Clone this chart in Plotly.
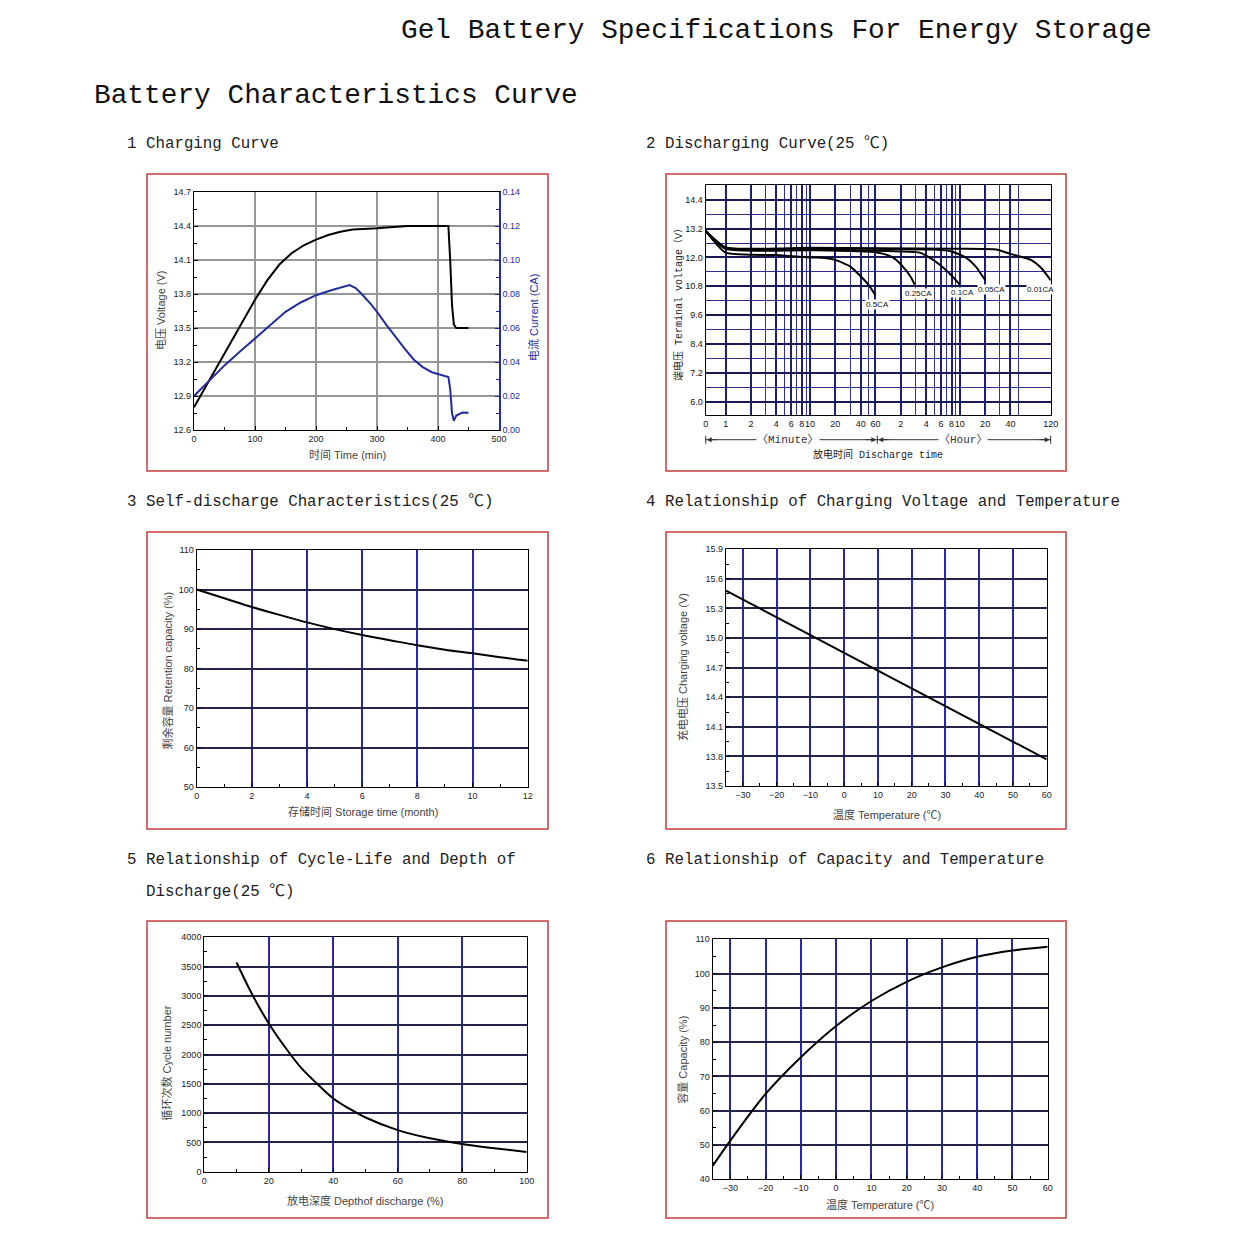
import math
import plotly.graph_objects as go

W, H = 1239, 1236

# ---------------- DATA ----------------
# 1 Charging curve
chg_time_v = [0, 20, 40, 60, 80, 100, 120, 140, 160, 180, 200, 220, 240, 260, 300, 350, 400, 417, 420, 423, 426, 430, 450]
chg_voltage = [12.80, 12.99, 13.18, 13.37, 13.56, 13.75, 13.92, 14.06, 14.16, 14.23, 14.28, 14.32, 14.35, 14.37, 14.38, 14.40, 14.40, 14.40, 14.10, 13.70, 13.53, 13.50, 13.50]
chg_time_i = [0, 25, 50, 75, 100, 125, 150, 175, 200, 225, 245, 255, 265, 275, 290, 300, 315, 330, 345, 360, 375, 390, 405, 417, 420, 423, 426, 430, 440, 450]
chg_current = [0.020, 0.029, 0.038, 0.046, 0.054, 0.062, 0.0695, 0.075, 0.0793, 0.0822, 0.0843, 0.0852, 0.0835, 0.0800, 0.0740, 0.0695, 0.0620, 0.0548, 0.0480, 0.0415, 0.0370, 0.0340, 0.0323, 0.0312, 0.0240, 0.0100, 0.0055, 0.0085, 0.0103, 0.0102]

# 2 Discharging curve (time in minutes; "0" is shown at the log-axis origin T0)
T0 = 0.58
dis_rates = ["0.5CA", "0.25CA", "0.1CA", "0.05CA", "0.01CA"]
dis_time = {
    "0.5CA": [T0, 1, 4, 10, 15, 20, 30, 40, 50, 60],
    "0.25CA": [T0, 1, 10, 60, 75, 96, 126, 158, 175],
    "0.1CA": [T0, 1, 10, 60, 120, 200, 240, 348, 480, 600],
    "0.05CA": [T0, 1, 10, 60, 300, 480, 704, 925, 1200],
    "0.01CA": [T0, 1, 10, 60, 600, 1630, 2400, 4200, 5600, 7200],
}
dis_volt = {
    "0.5CA": [13.1, 12.2, 12.1, 12.0, 11.98, 11.9, 11.63, 11.22, 10.85, 10.42],
    "0.25CA": [13.1, 12.36, 12.3, 12.22, 12.15, 12.0, 11.63, 11.18, 10.87],
    "0.1CA": [13.1, 12.38, 12.33, 12.28, 12.25, 12.2, 12.08, 11.7, 11.25, 10.87],
    "0.05CA": [13.1, 12.4, 12.38, 12.36, 12.33, 12.25, 12.0, 11.63, 11.06],
    "0.01CA": [13.1, 12.42, 12.4, 12.38, 12.36, 12.33, 12.15, 11.9, 11.55, 11.05],
}
dis_tickvals = [T0, 1, 2, 4, 6, 8, 10, 20, 40, 60, 120, 240, 360, 480, 600, 1200, 2400, 7200]
dis_ticktext = ["0", "1", "2", "4", "6", "8", "10", "20", "40", "60", "2", "4", "6", "8", "10", "20", "40", "120"]
dis_minor = [3, 5, 7, 9, 30, 50, 180, 300, 420, 540, 1800, 3000]

# 3 Self-discharge
sd_month = [0, 1, 2, 3, 4, 5, 6, 7, 8, 9, 10, 11, 12]
sd_capacity = [100, 97.8, 95.6, 93.6, 91.7, 90.0, 88.5, 87.2, 85.9, 84.8, 83.9, 82.9, 82.0]

# 4 Charging voltage vs temperature
cv_temp = [-35, -30, -20, -10, 0, 10, 20, 30, 40, 50, 60]
cv_volt = [15.48, 15.39, 15.21, 15.03, 14.85, 14.67, 14.49, 14.31, 14.13, 13.95, 13.77]

# 5 Cycle life vs depth of discharge
dod = [10, 15, 20, 25, 30, 35, 40, 45, 50, 60, 70, 80, 90, 100]
cycles = [3570, 3010, 2530, 2130, 1775, 1500, 1250, 1075, 925, 710, 570, 472, 400, 335]

# 6 Capacity vs temperature
ct_temp = [-35, -30, -20, -10, 0, 10, 20, 30, 40, 50, 60]
ct_cap = [43.9, 51.3, 64.9, 75.6, 84.7, 92.0, 97.6, 101.8, 104.9, 106.7, 107.8]

# ---------------- LAYOUT HELPERS ----------------
def fx(x):
    return x / W

def fy(y):
    return 1 - y / H

PANELS = {
    1: (194, 192, 499, 430),
    2: (705.7, 185.3, 1050.7, 415),
    3: (196.7, 550, 527.7, 787.3),
    4: (726, 549.3, 1046.7, 786),
    5: (204.3, 937.3, 526.7, 1171.7),
    6: (712.7, 939.3, 1047.7, 1179.3),
}
FRAMES = [(147, 174, 548, 471), (666, 174, 1066, 471), (147, 532, 548, 829),
          (666, 532, 1066, 829), (147, 921, 548, 1218), (666, 921, 1066, 1218)]

SANS = "Liberation Sans, Arial, Noto Sans CJK SC"
MONO = "Liberation Mono, Courier New, Noto Sans CJK SC"
BLUE_GRID = "rgb(40,40,165)"
NAVY_GRID = "rgb(35,35,75)"
GRAY_GRID = "rgb(150,150,150)"
CURRENT_BLUE = "rgb(35,45,155)"
TICKFONT = dict(family=SANS, size=9, color="#222")


def base_axis(**kw):
    d = dict(showline=True, linecolor="black", linewidth=1.2, mirror=True,
             ticks="inside", ticklen=4, tickcolor="black", tickwidth=1, tickangle=0,
             tickfont=TICKFONT, zeroline=False, showgrid=True, gridwidth=1.5,
             fixedrange=True, automargin=False)
    d.update(kw)
    return d


def dom(i):
    x0, y0, x1, y1 = PANELS[i]
    return [fx(x0), fx(x1)], [fy(y1), fy(y0)]


fig = go.Figure()

# Panel 1 traces
fig.add_trace(go.Scatter(x=chg_time_v, y=chg_voltage, mode="lines",
                         line=dict(color="black", width=2), xaxis="x", yaxis="y", showlegend=False))
fig.add_trace(go.Scatter(x=chg_time_i, y=chg_current, mode="lines",
                         line=dict(color=CURRENT_BLUE, width=2), xaxis="x", yaxis="y7", showlegend=False))

# Panel 2 traces
for r in dis_rates:
    fig.add_trace(go.Scatter(x=dis_time[r], y=dis_volt[r], mode="lines",
                             line=dict(color="black", width=2, shape="spline", smoothing=0.5),
                             xaxis="x2", yaxis="y2", showlegend=False))

# Panels 3-6
fig.add_trace(go.Scatter(x=sd_month, y=sd_capacity, mode="lines",
                         line=dict(color="black", width=2, shape="spline"), xaxis="x3", yaxis="y3", showlegend=False))
fig.add_trace(go.Scatter(x=cv_temp, y=cv_volt, mode="lines",
                         line=dict(color="black", width=2), xaxis="x4", yaxis="y4", showlegend=False))
fig.add_trace(go.Scatter(x=dod, y=cycles, mode="lines",
                         line=dict(color="black", width=2, shape="spline"), xaxis="x5", yaxis="y5", showlegend=False))
fig.add_trace(go.Scatter(x=ct_temp, y=ct_cap, mode="lines",
                         line=dict(color="black", width=2, shape="spline"), xaxis="x6", yaxis="y6", showlegend=False))

layout = dict(width=W, height=H, margin=dict(l=0, r=0, t=0, b=0, pad=0, autoexpand=False),
              paper_bgcolor="white", plot_bgcolor="white", showlegend=False)

# Panel 1 axes
xd, yd = dom(1)
layout["xaxis"] = base_axis(domain=xd, anchor="y", range=[0, 500], dtick=100, tick0=0,
                            gridcolor=GRAY_GRID,
                            minor=dict(dtick=50, ticks="inside", ticklen=3, showgrid=False))
layout["yaxis"] = base_axis(domain=yd, anchor="x", range=[12.6, 14.7], dtick=0.3, tick0=12.6,
                            tickformat=".1f", gridcolor=GRAY_GRID, mirror=False,
                            minor=dict(dtick=0.15, ticks="inside", ticklen=3, showgrid=False))
layout["yaxis7"] = dict(overlaying="y", side="right", anchor="x", range=[0, 0.14], dtick=0.02, tick0=0,
                        tickformat=".2f", showgrid=False, showline=True, linecolor=CURRENT_BLUE, linewidth=1.5,
                        ticks="inside", ticklen=4, tickcolor=CURRENT_BLUE, zeroline=False, fixedrange=True,
                        automargin=False, tickangle=0,
                        tickfont=dict(family=SANS, size=9, color=CURRENT_BLUE),
                        minor=dict(dtick=0.01, ticks="inside", ticklen=3, tickcolor=CURRENT_BLUE))

# Panel 2 axes
xd, yd = dom(2)
layout["xaxis2"] = base_axis(domain=xd, anchor="y2", type="log",
                             range=[math.log10(T0), math.log10(7200)],
                             tickmode="array", tickvals=dis_tickvals, ticktext=dis_ticktext,
                             ticks="", gridcolor="rgb(30,30,120)", gridwidth=1.5,
                             tickfont=dict(family=SANS, size=9, color="#111"),
                             minor=dict(tickmode="array", tickvals=dis_minor, showgrid=True,
                                        gridcolor="rgb(50,50,150)", gridwidth=1, ticks=""))
layout["yaxis2"] = base_axis(domain=yd, anchor="x2", range=[5.45, 15.0], tick0=6.0, dtick=1.2,
                             tickformat=".1f", ticks="", gridcolor="rgb(25,25,90)", gridwidth=1.5,
                             tickfont=dict(family=SANS, size=9, color="#111"),
                             minor=dict(tick0=6.0, dtick=0.6, showgrid=True, gridcolor="rgb(45,45,150)",
                                        gridwidth=1.3, ticks=""))

# Panel 3 axes
xd, yd = dom(3)
layout["xaxis3"] = base_axis(domain=xd, anchor="y3", range=[0, 12], dtick=2, tick0=0, gridcolor=BLUE_GRID,
                             minor=dict(dtick=1, ticks="inside", ticklen=3, showgrid=False))
layout["yaxis3"] = base_axis(domain=yd, anchor="x3", range=[50, 110], dtick=10, tick0=50, gridcolor=NAVY_GRID,
                             minor=dict(dtick=5, ticks="inside", ticklen=3, showgrid=False))

# Panel 4 axes
xd, yd = dom(4)
layout["xaxis4"] = base_axis(domain=xd, anchor="y4", range=[-35, 60], dtick=10, tick0=-30, gridcolor=BLUE_GRID,
                             minor=dict(dtick=5, tick0=-35, ticks="inside", ticklen=3, showgrid=False))
layout["yaxis4"] = base_axis(domain=yd, anchor="x4", range=[13.5, 15.9], dtick=0.3, tick0=13.5,
                             tickformat=".1f", gridcolor=NAVY_GRID,
                             minor=dict(dtick=0.15, ticks="inside", ticklen=3, showgrid=False))

# Panel 5 axes
xd, yd = dom(5)
layout["xaxis5"] = base_axis(domain=xd, anchor="y5", range=[0, 100], dtick=20, tick0=0, gridcolor=BLUE_GRID,
                             minor=dict(dtick=10, ticks="inside", ticklen=3, showgrid=False))
layout["yaxis5"] = base_axis(domain=yd, anchor="x5", range=[0, 4000], dtick=500, tick0=0, gridcolor=NAVY_GRID,
                             minor=dict(dtick=250, ticks="inside", ticklen=3, showgrid=False))

# Panel 6 axes
xd, yd = dom(6)
layout["xaxis6"] = base_axis(domain=xd, anchor="y6", range=[-35, 60], dtick=10, tick0=-30, gridcolor=BLUE_GRID,
                             minor=dict(dtick=5, tick0=-35, ticks="inside", ticklen=3, showgrid=False))
layout["yaxis6"] = base_axis(domain=yd, anchor="x6", range=[40, 110], dtick=10, tick0=40, gridcolor=NAVY_GRID,
                             minor=dict(dtick=5, ticks="inside", ticklen=3, showgrid=False))

fig.update_layout(**layout)

# Red frames
shapes = []
for (x0, y0, x1, y1) in FRAMES:
    shapes.append(dict(type="rect", xref="paper", yref="paper", x0=fx(x0), x1=fx(x1), y0=fy(y1), y1=fy(y0),
                       line=dict(color="rgb(200,60,60)", width=1.5), layer="below"))

# Panel 2 time-unit bracket row
ry = 439.7
xl, xm, xr = 705.7, 877.3, 1050.7
for a, b in [(xl, xm), (xm, xr)]:
    shapes.append(dict(type="line", xref="paper", yref="paper", x0=fx(a), x1=fx(b), y0=fy(ry), y1=fy(ry),
                       line=dict(color="#333", width=1)))
for xv in (xl, xm, xr):
    shapes.append(dict(type="line", xref="paper", yref="paper", x0=fx(xv), x1=fx(xv), y0=fy(ry - 4), y1=fy(ry + 4),
                       line=dict(color="#333", width=1)))
fig.update_layout(shapes=shapes)

ann = []


def text(x, y, s, size, family=MONO, color="#222", xanchor="left", angle=0, bg=None, yanchor="middle"):
    d = dict(x=fx(x), y=fy(y), xref="paper", yref="paper", text=s, showarrow=False,
             font=dict(family=family, size=size, color=color), xanchor=xanchor, yanchor=yanchor,
             textangle=angle)
    if bg:
        d["bgcolor"] = bg
        d["borderpad"] = 0
    ann.append(d)


# Titles
text(399, 31, "Gel Battery Specifications For Energy Storage", 27.8, color="#111")
text(92, 96, "Battery Characteristics Curve", 27.8, color="#111")
SUB = 15.8
text(125, 144, "1 Charging Curve", SUB)
text(644, 144, "2 Discharging Curve(25 ℃)", SUB)
text(125, 502, "3 Self-discharge Characteristics(25 ℃)", SUB)
text(644, 502, "4 Relationship of Charging Voltage and Temperature", SUB)
text(125, 860, "5 Relationship of Cycle-Life and Depth of", SUB)
text(144, 892, "Discharge(25 ℃)", SUB)
text(644, 860, "6 Relationship of Capacity and Temperature", SUB)

# Axis titles
AX = "#444"
text(161, 311, "电压 Voltage (V)", 11, family=SANS, color=AX, xanchor="center", angle=-90)
text(533, 318, "电流 Current (CA)", 11, family=SANS, color=CURRENT_BLUE, xanchor="center", angle=-90)
text(347.7, 455, "时间 Time (min)", 11, family=SANS, color=AX, xanchor="center")

text(678, 302, "端电压 Terminal voltage（V）", 10, family=MONO, color="#222", xanchor="center", angle=-90)
text(878, 454.7, "放电时间 Discharge time", 10, family=MONO, color="#222", xanchor="center")
text(788, ry, "〈Minute〉", 11, family=MONO, color="#333", xanchor="center", bg="white")
text(963, ry, "〈Hour〉", 11, family=MONO, color="#333", xanchor="center", bg="white")

text(166.5, 670, "剩余容量 Retention capacity (%)", 11, family=SANS, color=AX, xanchor="center", angle=-90)
text(363, 811, "存储时间 Storage time (month)", 11, family=SANS, color=AX, xanchor="center")

text(683, 667, "充电电压 Charging voltage (V)", 11, family=SANS, color=AX, xanchor="center", angle=-90)
text(886.7, 814, "温度 Temperature (℃)", 11, family=SANS, color=AX, xanchor="center")

text(165.5, 1063, "循环次数 Cycle number", 11, family=SANS, color=AX, xanchor="center", angle=-90)
text(365, 1200, "放电深度 Depthof discharge (%)", 11, family=SANS, color=AX, xanchor="center")

text(681.7, 1060, "容量 Capacity (%)", 11, family=SANS, color=AX, xanchor="center", angle=-90)
text(880, 1204, "温度 Temperature (℃)", 11, family=SANS, color=AX, xanchor="center")

# Discharge curve labels
CA_POS = {"0.5CA": (877.3, 304.7), "0.25CA": (918.3, 293.7), "0.1CA": (962.7, 292.5),
          "0.05CA": (991.7, 289.3), "0.01CA": (1040.7, 289.3)}
for r in dis_rates:
    x, y = CA_POS[r]
    text(x, y, r, 8, family=SANS, color="#111", xanchor="center", bg="white")

# Arrowheads for the bracket row
for xv, dx in [(xl, 12), (xm, -12), (xm, 12), (xr, -12)]:
    ann.append(dict(x=fx(xv + (1 if dx > 0 else -1)), y=fy(ry), xref="paper", yref="paper", text="",
                    showarrow=True, ax=dx, ay=0, arrowhead=2, arrowsize=1, arrowwidth=1,
                    arrowcolor="#333", standoff=0))

fig.update_layout(annotations=ann)

fig.write_html("out.html")
